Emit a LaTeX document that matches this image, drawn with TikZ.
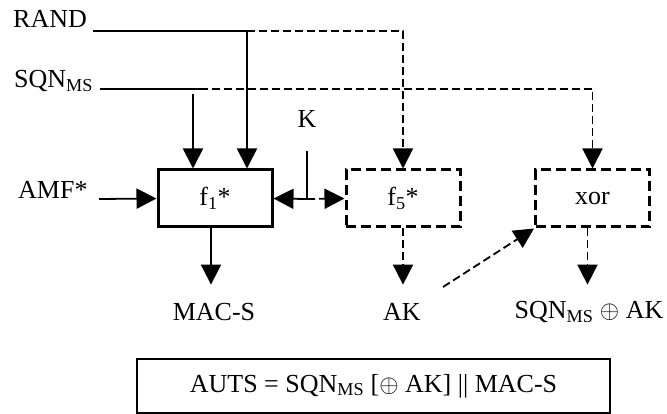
\documentclass[tikz,border=0pt]{standalone}
\usepackage{fontspec}
\setmainfont{Liberation Serif}
\usetikzlibrary{arrows.meta}

\begin{document}
\begin{tikzpicture}[x=1pt,y=-1pt,
  every node/.style={font=\fontsize{26}{30}\selectfont,inner sep=0pt},
  fbox/.style={draw,line width=3pt,minimum width=114pt,minimum height=57pt},
  dbox/.style={fbox,dash pattern=on 10pt off 5pt},
  wire/.style={line width=1.8pt},
  dwire/.style={wire,dash pattern=on 8pt off 4pt},
  arr/.style={-{Triangle[length=20pt,width=20pt]}}]
\useasboundingbox (0,0) rectangle (667,414);
% inputs
\node[anchor=base west] (rand) at (13,28) {RAND};
\node[anchor=base west] (sqn) at (14,88) {SQN\textsubscript{MS}};
\node[anchor=base west] (amf) at (18,199) {AMF*};
\node[anchor=base] (k) at (307,128) {K};
% functions
\node[fbox] (f1) at (215,198.5) {f\textsubscript{1}*};
\node[dbox] (f5) at (403,198.5) {f\textsubscript{5}*};
\node[dbox] (xor) at (592.5,198.5) {xor};
% outputs
\node[anchor=base] (mac) at (214,320) {MAC-S};
\node[anchor=base] (ak) at (402,320) {AK};
\node[anchor=base] (sqnak) at (589,319) {SQN\textsubscript{MS} $\oplus$ AK};
\node[draw,line width=2pt,minimum width=473pt,minimum height=54pt] (auts) at (373.5,386)
  {AUTS = SQN\textsubscript{MS} [$\oplus$ AK] || MAC-S};
% junctions
\coordinate (randin) at (93,31);
\coordinate (randj) at (247,31);
\coordinate (sqnin) at (100,89);
\coordinate (sqnj) at (200,89);
\coordinate (sqnd) at (193,94);
\coordinate (amfin) at (99,199);
\coordinate (ktop) at (307,151);
\coordinate (kj) at (307,199);
\coordinate (akout) at (443,287);
% connectors
\draw[wire] (randin) -- (randj);
\draw[wire,arr] (randj) -- (randj |- f1.north);
\draw[dwire,arr] (randj) -| (f5.north);
\draw[wire] (sqnin) -- (sqnj);
\draw[dwire,arr] (sqnj) -| (xor.north);
\draw[wire,arr] (sqnd) -- (sqnd |- f1.north);
\draw[wire,arr] (amfin) -- (f1.west);
\draw[wire] (ktop) -- (kj);
\draw[wire,arr] (kj) -- (f1.east);
\draw[dwire,arr] (kj) -- (f5.west);
\draw[wire,arr] ([xshift=-4pt]f1.south) -- ([xshift=-3pt,yshift=18pt]mac.north);
\draw[dwire,arr] (f5.south) -- ([yshift=18pt]f5.south |- ak.north);
\draw[dwire,arr] ([xshift=-5pt]xor.south) -- ([xshift=-5pt,yshift=18pt]xor.south |- ak.north);
\draw[dwire,arr] (akout) -- (xor.south west);
\end{tikzpicture}
\end{document}
